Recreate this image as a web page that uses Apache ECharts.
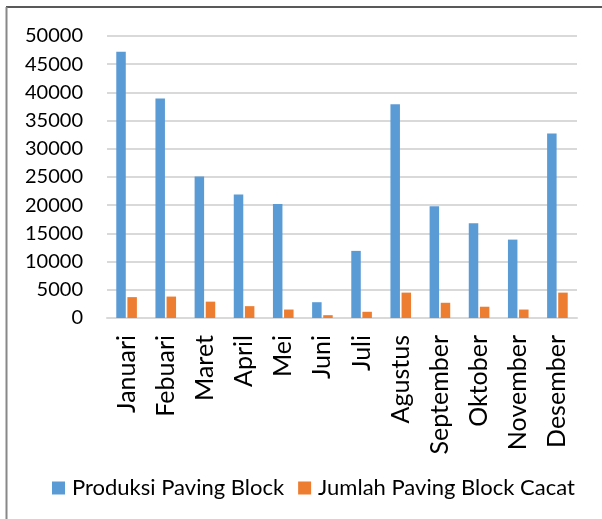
<!DOCTYPE html>
<html><head><meta charset="utf-8">
<script src="https://cdn.jsdelivr.net/npm/echarts@6/dist/echarts.min.js"></script>
<style>html,body{margin:0;padding:0;background:#fff}#c{width:602px;height:519px}</style>
</head><body><div id="c"></div>
<script>
const categories = ['Januari','Febuari','Maret','April','Mei','Juni','Juli','Agustus','September','Oktober','November','Desember'];
const produksi = [47200, 38900, 25100, 21900, 20200, 2800, 11900, 37900, 19800, 16800, 13900, 32700];
const cacat = [3700, 3800, 2900, 2100, 1500, 500, 1100, 4500, 2700, 2000, 1500, 4500];
const yTicks = [0, 5000, 10000, 15000, 20000, 25000, 30000, 35000, 40000, 45000, 50000];

const chart = echarts.init(document.getElementById('c'), null, {renderer: 'canvas'});
const FONT = 'Lato';
chart.setOption({
  animation: false,
  textStyle: {fontFamily: FONT},
  grid: {left: 107, right: 25, top: 36, bottom: 201, containLabel: false},
  legend: {
    top: 472, left: 47,
    itemWidth: 13, itemHeight: 13, itemGap: 14,
    icon: 'rect',
    textStyle: {fontFamily: FONT, fontSize: 22, color: '#000', padding: [0,0,0,2]},
    data: ['Produksi Paving Block', 'Jumlah Paving Block Cacat']
  },
  xAxis: {
    type: 'category', data: categories,
    axisLine: {lineStyle: {color: '#d9d9d9', width: 2}},
    axisTick: {show: false},
    axisLabel: {rotate: 90, interval: 0, margin: 17, fontFamily: FONT, fontSize: 25, color: '#000'}
  },
  yAxis: {
    type: 'value', min: yTicks[0], max: yTicks[yTicks.length-1], interval: 5000,
    axisLine: {show: false}, axisTick: {show: false},
    splitLine: {lineStyle: {color: '#d9d9d9', width: 2}},
    axisLabel: {margin: 24, fontFamily: FONT, fontSize: 20, color: '#000', formatter: v => String(v)}
  },
  series: [
    {name: 'Produksi Paving Block', type: 'bar', data: produksi, barWidth: 9.5, barGap: '17%',
     itemStyle: {color: '#5b9bd5'}},
    {name: 'Jumlah Paving Block Cacat', type: 'bar', data: cacat, barWidth: 9.5,
     itemStyle: {color: '#ed7d31'}}
  ],
  graphic: [
    {type: 'line', shape: {x1: 6, y1: 7, x2: 602, y2: 7}, style: {stroke: '#222', lineWidth: 1.5}, silent: true},
    {type: 'line', shape: {x1: 6.5, y1: 7, x2: 6.5, y2: 519}, style: {stroke: '#888', lineWidth: 2}, silent: true}
  ]
});
</script></body></html>
